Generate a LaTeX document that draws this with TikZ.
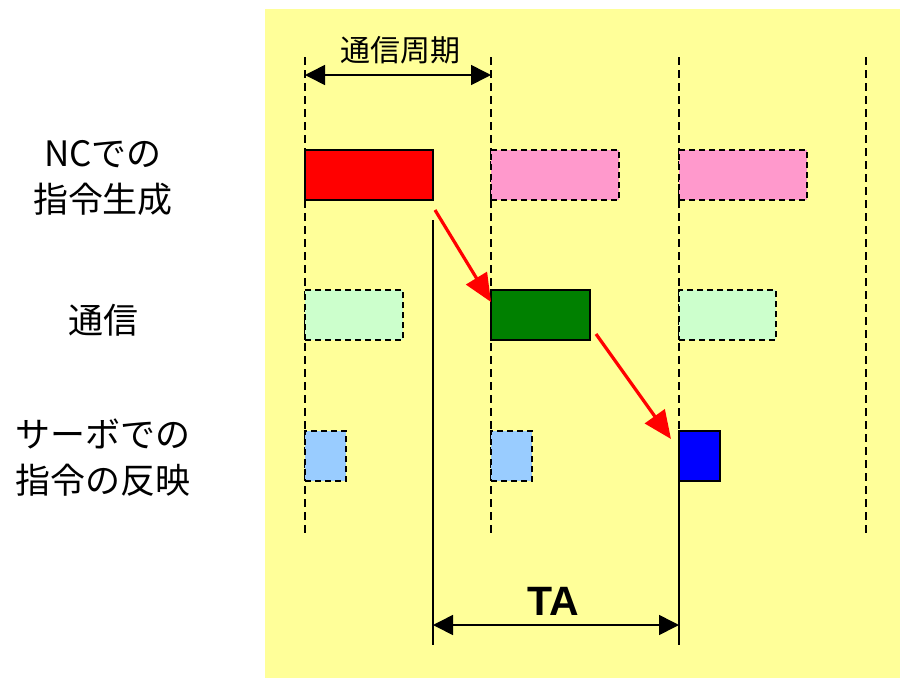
\documentclass[tikz,border=0pt]{standalone}
\usepackage{fontspec}
\setmainfont{Noto Sans CJK JP}
\newfontfamily\latinbold{Liberation Sans}
\usetikzlibrary{arrows.meta}
\definecolor{bgyellow}{RGB}{255,255,153}
\definecolor{pinkbox}{RGB}{255,153,204}
\definecolor{lightgreen}{RGB}{204,255,204}
\definecolor{darkgreen}{RGB}{0,128,0}
\definecolor{lightblue}{RGB}{153,204,255}
\tikzset{
  boxsolid/.style={draw=black, line width=2pt, inner sep=0pt, outer sep=0pt},
  boxghost/.style={draw=black, line width=1.7pt, dash pattern=on 6pt off 4pt, inner sep=0pt, outer sep=0pt},
  tick/.style={draw=black, line width=1.7pt, dash pattern=on 8pt off 5pt},
  dim/.style={draw=black, line width=1.6pt, {Triangle[length=20pt,width=20pt]}-{Triangle[length=20pt,width=20pt]}},
  redarrow/.style={draw=red, line width=3.2pt, -{Triangle[length=28pt,width=24pt]}},
  rowlabel/.style={align=center, font=\fontsize{35}{46}\selectfont, inner sep=0pt}
}
\begin{document}
\begin{tikzpicture}[x=1pt,y=-1pt]
\useasboundingbox (0,0) rectangle (900,678);
\fill[bgyellow] (265,9) rectangle (900,678);
% period ticks
\foreach \x/\n in {305/a,491/b,679/c,866/d}{
  \coordinate (t\n top) at (\x,57);
  \coordinate (t\n bot) at (\x,535);
  \draw[tick] (t\n top) -- (t\n bot);
}
% comm period dimension
\coordinate (pl) at (305,75);
\coordinate (pr) at (491,75);
\draw[dim] (pl) -- (pr);
\node[font=\fontsize{30}{32}\selectfont, inner sep=0pt] (period) at (400,50) {通信周期};
% row labels
\node[rowlabel] (lnc) at (103,178) {NCでの\\指令生成};
\node[rowlabel] (lcom) at (103,320) {通信};
\node[rowlabel] (lsv) at (103,458) {サーボでの\\指令の反映};
% NC row
\node[boxsolid, fill=red, minimum width=128pt, minimum height=50pt, anchor=north west] (nc1) at (305,150) {};
\node[boxghost, fill=pinkbox, minimum width=128pt, minimum height=50pt, anchor=north west] (nc2) at (491,150) {};
\node[boxghost, fill=pinkbox, minimum width=128pt, minimum height=50pt, anchor=north west] (nc3) at (679,150) {};
% comm row
\node[boxghost, fill=lightgreen, minimum width=98pt, minimum height=50pt, anchor=north west] (cm1) at (305,290) {};
\node[boxsolid, fill=darkgreen, minimum width=99pt, minimum height=50pt, anchor=north west] (cm2) at (491,290) {};
\node[boxghost, fill=lightgreen, minimum width=97pt, minimum height=50pt, anchor=north west] (cm3) at (679,290) {};
% servo row
\node[boxghost, fill=lightblue, minimum width=41pt, minimum height=50pt, anchor=north west] (sv1) at (305,431) {};
\node[boxghost, fill=lightblue, minimum width=41pt, minimum height=50pt, anchor=north west] (sv2) at (491,431) {};
\node[boxsolid, fill=blue, minimum width=41pt, minimum height=50pt, anchor=north west] (sv3) at (679,431) {};
% red flow arrows
\draw[redarrow] ([shift={(2pt,-10pt)}]nc1.south east) -- ([shift={(0pt,-12pt)}]cm2.north west);
\draw[redarrow] ([shift={(6pt,6pt)}]cm2.south east) -- ([shift={(-8pt,-8pt)}]sv3.north west);
% TA dimension
\coordinate (tastart) at (433,220);
\coordinate (tabot1) at (433,645);
\coordinate (tabot2) at (679,645);
\draw[line width=1.6pt] (tastart) -- (tabot1);
\draw[line width=1.6pt] (sv3.south west) -- (tabot2);
\coordinate (tal) at (433,625);
\coordinate (tar) at (679,625);
\draw[dim] (tal) -- (tar);
\node[font=\latinbold\bfseries\fontsize{41}{41}\selectfont, inner sep=0pt] (ta) at (553,601) {TA};
\end{tikzpicture}
\end{document}
